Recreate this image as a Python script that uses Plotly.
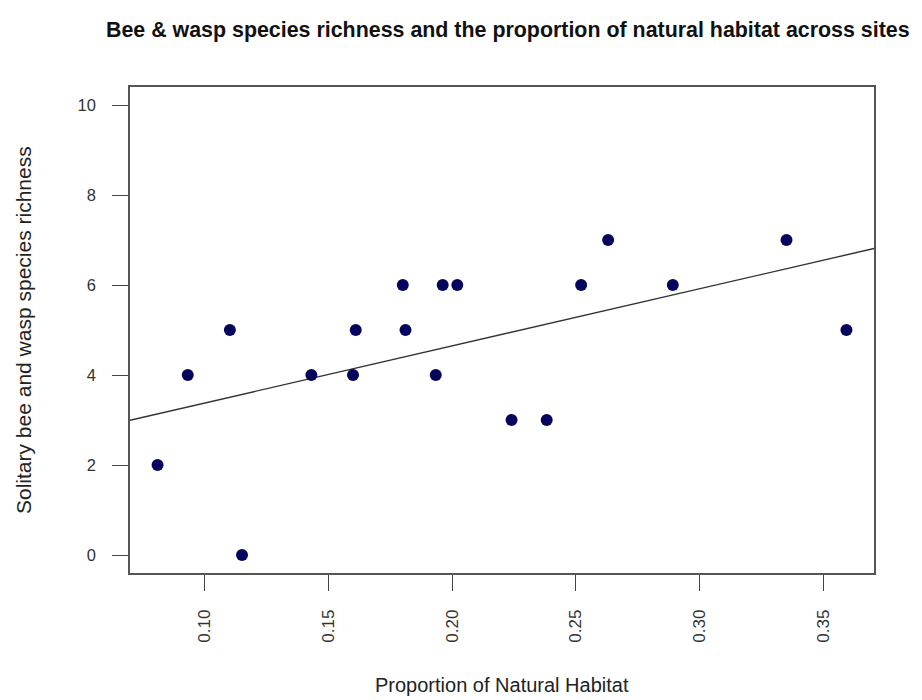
import numpy as np
import plotly.graph_objects as go

# Data
natural_habitat = [0.0811, 0.0933, 0.1103, 0.1152, 0.1432, 0.1600, 0.1611, 0.1801,
                   0.1812, 0.1934, 0.1962, 0.2021, 0.2240, 0.2382, 0.2521, 0.2630,
                   0.2891, 0.3350, 0.3592]
species_richness = [2, 4, 5, 0, 4, 4, 5, 6, 5, 4, 6, 6, 3, 3, 6, 7, 6, 7, 5]
x_ticks = [0.10, 0.15, 0.20, 0.25, 0.30, 0.35]
x_tick_labels = ["0.10", "0.15", "0.20", "0.25", "0.30", "0.35"]
y_ticks = [0, 2, 4, 6, 8, 10]
y_tick_labels = ["0", "2", "4", "6", "8", "10"]

title = "Bee & wasp species richness and the proportion of natural habitat across sites"
x_title = "Proportion of Natural Habitat"
y_title = "Solitary bee and wasp species richness"

# R-style axis ranges (4% padding)
xmin, xmax = min(natural_habitat), max(natural_habitat)
pad = 0.04 * (xmax - xmin)
x_range = [xmin - pad, xmax + pad]
y_range = [0 - 0.4, 10 + 0.4]

# linear fit (abline(lm(...)))
slope, intercept = np.polyfit(natural_habitat, species_richness, 1)
line_x = np.array(x_range)
line_y = intercept + slope * line_x

FONT = "Liberation Sans, Arial, Helvetica, sans-serif"

# plot-area geometry (absolute page pixels)
L, R, T, B = 130, 874, 87, 573
PW, PH = R - L, B - T

fig = go.Figure()
fig.add_trace(go.Scatter(x=line_x, y=line_y, mode="lines",
                         line=dict(color="#333333", width=1.4),
                         hoverinfo="skip", showlegend=False))
fig.add_trace(go.Scatter(x=natural_habitat, y=species_richness, mode="markers",
                         marker=dict(color="#05055e", size=12, line=dict(width=0)),
                         showlegend=False))

fig.update_layout(
    width=914, height=692,
    margin=dict(l=L - 8, r=914 - (R - 8), t=T - 8, b=692 - (B - 8)),
    paper_bgcolor="white", plot_bgcolor="white",
    font=dict(family=FONT, color="#222222"),
)
fig.update_xaxes(range=x_range, tickvals=x_ticks, ticktext=x_tick_labels,
                 tickangle=-90, ticks="outside", ticklen=16, tickwidth=1.3,
                 tickcolor="#444444", showline=True, mirror=True,
                 linecolor="#555555", linewidth=1.5, showgrid=False, zeroline=False,
                 tickfont=dict(size=17, color="#333333"), ticklabelstandoff=12)
fig.update_yaxes(range=y_range, tickvals=y_ticks, ticktext=y_tick_labels,
                 ticks="outside", ticklen=16, tickwidth=1.3,
                 tickcolor="#444444", showline=True, mirror=True,
                 linecolor="#555555", linewidth=1.5, showgrid=False, zeroline=False,
                 tickfont=dict(size=16.5, color="#333333"), ticklabelstandoff=13)

fig.add_annotation(text="<b>" + title + "</b>", xref="paper", yref="paper",
                   x=(508 - L) / PW, y=1 + (T - 30) / PH, xanchor="center",
                   yanchor="middle", showarrow=False,
                   font=dict(size=21.4, family=FONT, color="#111111"))
fig.add_annotation(text=x_title, xref="paper", yref="paper",
                   x=0.5, y=-(685 - B) / PH, xanchor="center", yanchor="middle",
                   showarrow=False, font=dict(size=20, family=FONT, color="#222222"))
fig.add_annotation(text=y_title, xref="paper", yref="paper",
                   x=-(L - 23) / PW, y=0.5, xanchor="center", yanchor="middle",
                   textangle=-90, showarrow=False,
                   font=dict(size=21, family=FONT, color="#222222"))

fig.write_html("out.html")
